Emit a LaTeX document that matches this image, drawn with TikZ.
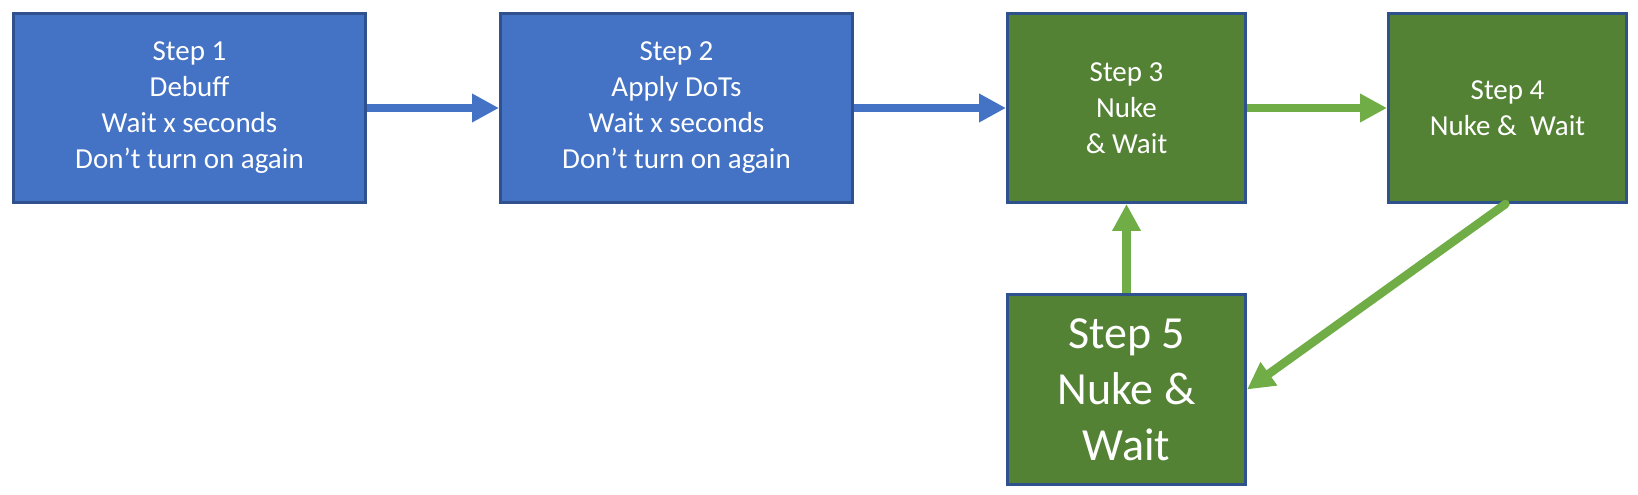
\documentclass[tikz,border=0pt]{standalone}
\usepackage{fontspec}
\setmainfont{Carlito}
\usetikzlibrary{arrows.meta}
\definecolor{bluefill}{HTML}{4472C4}
\definecolor{boxedge}{HTML}{2F528F}
\definecolor{greenfill}{HTML}{548235}
\definecolor{greenarrow}{HTML}{70AD47}
\begin{document}
\begin{tikzpicture}[x=1pt,y=1pt,
  box/.style={draw=boxedge, line width=3pt, rectangle, inner sep=0pt,
    text=white, align=center, font=\fontsize{29}{36}\selectfont},
  bluebox/.style={box, fill=bluefill, minimum width=352pt, minimum height=189pt},
  greenbox/.style={box, fill=greenfill, minimum width=238pt, minimum height=189pt},
  arr/.style={line width=8.5pt, -{Triangle[length=27pt,width=27pt]}},
  bluearr/.style={arr, draw=bluefill},
  greenarr/.style={arr, draw=greenarrow}]
\useasboundingbox (0,0) rectangle (1638,495);
\node[bluebox] (b1) at (189.5,387) {Step 1\\Debuff\\Wait x seconds\\Don’t turn on again};
\node[bluebox] (b2) at (676.5,387) {Step 2\\Apply DoTs\\Wait x seconds\\Don’t turn on again};
\node[greenbox] (b3) at (1126.5,387) {Step 3\\Nuke\\\& Wait};
\node[greenbox] (b4) at (1507.5,387) {Step 4\\Nuke \&\ \ Wait};
\node[greenbox, minimum height=190pt, font=\fontsize{46}{56}\selectfont] (b5) at (1126.5,105.5) {Step 5\\Nuke \&\\Wait};
\draw[bluearr] (b1.east) -- (b2.west);
\draw[bluearr] (b2.east) -- (b3.west);
\draw[greenarr] (b3.east) -- (b4.west);
\draw[greenarr] (b5.north) -- (b3.south);
\draw[greenarr, line cap=round] ([xshift=-2pt]b4.south) -- (b5.east);
\end{tikzpicture}
\end{document}
